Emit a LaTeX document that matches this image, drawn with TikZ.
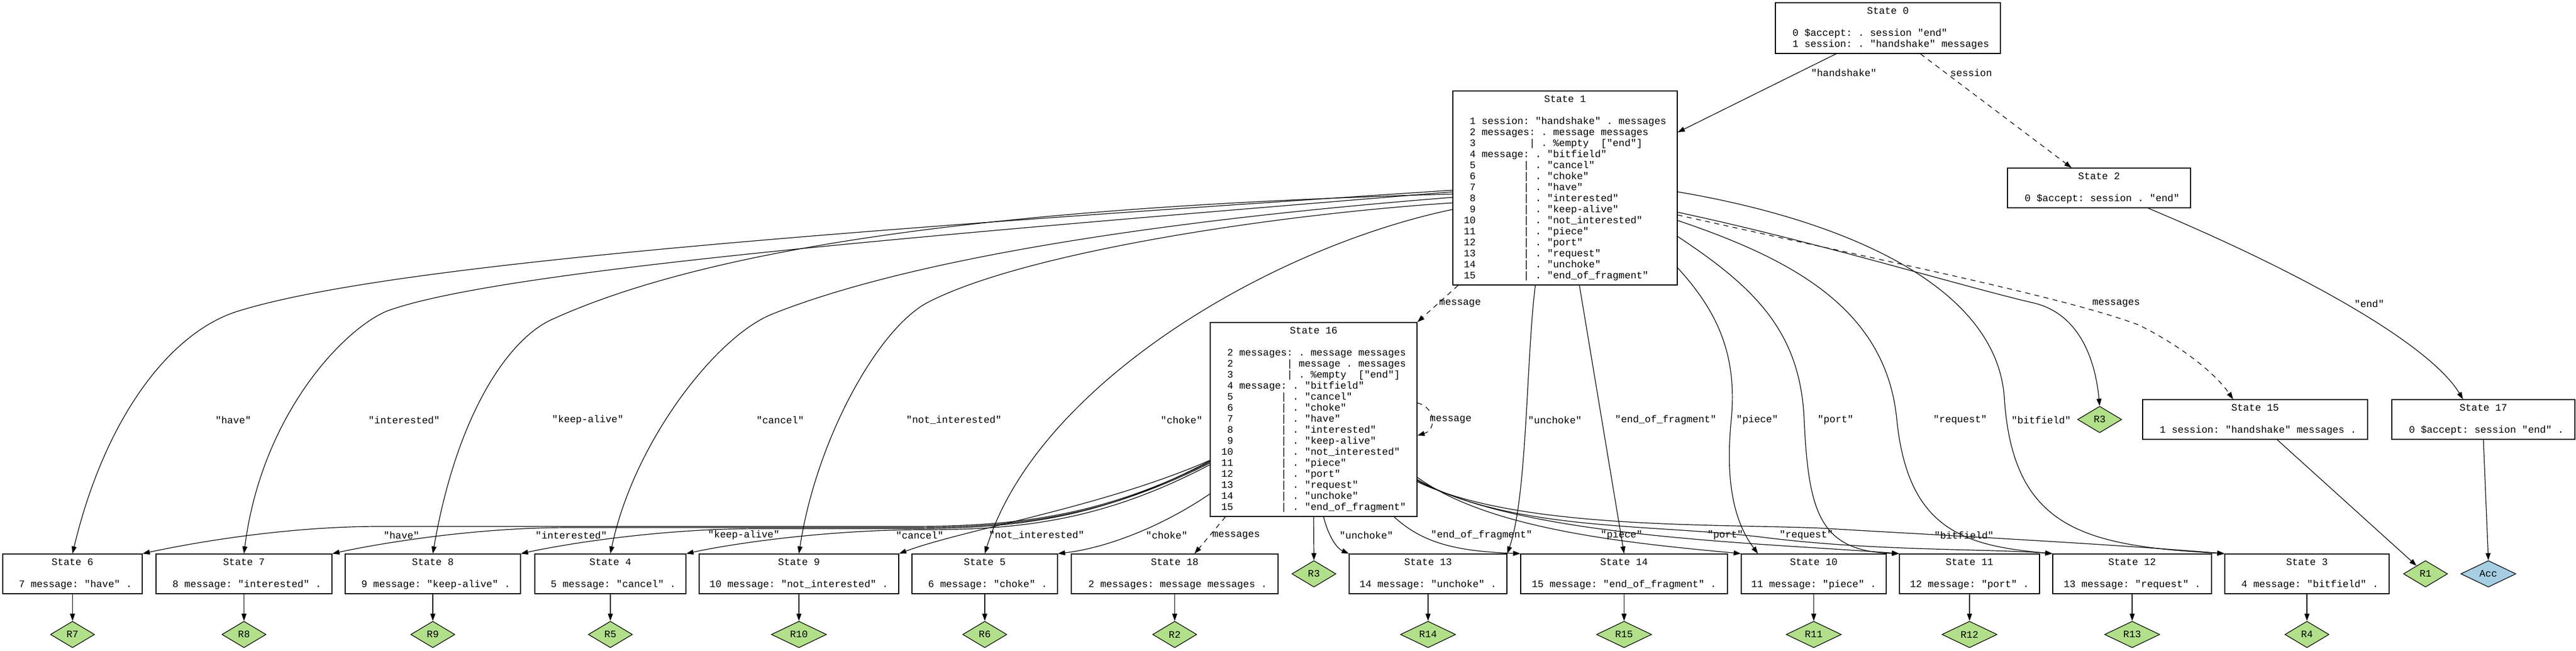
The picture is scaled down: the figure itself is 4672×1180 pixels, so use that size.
\documentclass[tikz,border=0pt]{standalone}
\usepackage{fontspec}
\setmonofont{Liberation Mono}
\usetikzlibrary{arrows.meta,shapes.geometric}
\definecolor{ReduceClr}{HTML}{B2DF8A}
\definecolor{AcceptClr}{HTML}{A6CEE3}
\newcommand{\stlabel}[2]{\begin{tabular}{@{}l@{}}\multicolumn{1}{@{}c@{}}{#1}\\ \\ #2\end{tabular}}

\begin{document}
\frenchspacing
\begin{tikzpicture}[x=0.5pt,y=-0.5pt,font=\ttfamily\fontsize{9}{10}\selectfont,
  stbox/.style={draw,line width=0.7pt,inner sep=3pt,minimum height=36pt},
  rbox/.style={diamond,draw,line width=0.6pt,fill=ReduceClr,inner sep=0pt,minimum width=40pt,minimum height=24pt},
  abox/.style={rbox,fill=AcceptClr,minimum width=50pt},
  tr/.style={line width=0.6pt,-{Triangle[length=6.5pt,width=4.5pt]}},
  gt/.style={tr,dash pattern=on 4.5pt off 4pt},
  elbl/.style={inner sep=0pt}]
\useasboundingbox (0,0) rectangle (4672,1180);

\node[stbox,minimum width=204pt,minimum height=46pt] (s0) at (3424,51) {\stlabel{State 0}{~0 \$accept: . session "end"\\~1 session: . "handshake" messages}};
\node[stbox,minimum width=203.5pt,minimum height=176pt] (s1) at (2838.5,341) {\stlabel{State 1}{%
~1 session: "handshake" . messages\\
~2 messages: . message messages\\
~3~~~~~~~~~| . \%empty~~["end"]\\
~4 message: . "bitfield"\\
~5~~~~~~~~| . "cancel"\\
~6~~~~~~~~| . "choke"\\
~7~~~~~~~~| . "have"\\
~8~~~~~~~~| . "interested"\\
~9~~~~~~~~| . "keep-alive"\\
10~~~~~~~~| . "not\_interested"\\
11~~~~~~~~| . "piece"\\
12~~~~~~~~| . "port"\\
13~~~~~~~~| . "request"\\
14~~~~~~~~| . "unchoke"\\
15~~~~~~~~| . "end\_of\_fragment"}};
\node[stbox,minimum width=166pt] (s2) at (3807,341) {\stlabel{State 2}{~0 \$accept: session . "end"}};
\node[stbox,minimum width=187.5pt,minimum height=176pt] (s16) at (2382.5,761) {\stlabel{State 16}{%
~2 messages: . message messages\\
~2~~~~~~~~~| message . messages\\
~3~~~~~~~~~| . \%empty~~["end"]\\
~4 message: . "bitfield"\\
~5~~~~~~~~| . "cancel"\\
~6~~~~~~~~| . "choke"\\
~7~~~~~~~~| . "have"\\
~8~~~~~~~~| . "interested"\\
~9~~~~~~~~| . "keep-alive"\\
10~~~~~~~~| . "not\_interested"\\
11~~~~~~~~| . "piece"\\
12~~~~~~~~| . "port"\\
13~~~~~~~~| . "request"\\
14~~~~~~~~| . "unchoke"\\
15~~~~~~~~| . "end\_of\_fragment"}};
\node[stbox,minimum width=204pt] (s15) at (4090,761) {\stlabel{State 15}{~1 session: "handshake" messages .}};
\node[stbox,minimum width=166pt] (s17) at (4504,761) {\stlabel{State 17}{~0 \$accept: session "end" .}};
\node[rbox] (r3a) at (3808,761) {R3};

\node[stbox,minimum width=126.5pt] (s6) at (131.5,1041) {\stlabel{State 6}{~7 message: "have" .}};
\node[stbox,minimum width=159.5pt] (s7) at (442.5,1041) {\stlabel{State 7}{~8 message: "interested" .}};
\node[stbox,minimum width=159pt] (s8) at (785,1041) {\stlabel{State 8}{~9 message: "keep-alive" .}};
\node[stbox,minimum width=137pt] (s4) at (1107,1041) {\stlabel{State 4}{~5 message: "cancel" .}};
\node[stbox,minimum width=181pt] (s9) at (1449,1041) {\stlabel{State 9}{10 message: "not\_interested" .}};
\node[stbox,minimum width=132pt] (s5) at (1786,1041) {\stlabel{State 5}{~6 message: "choke" .}};
\node[stbox,minimum width=187.5pt] (s18) at (2130.5,1041) {\stlabel{State 18}{~2 messages: message messages .}};
\node[rbox] (r3b) at (2383,1041) {R3};
\node[stbox,minimum width=143pt] (s13) at (2590,1041) {\stlabel{State 13}{14 message: "unchoke" .}};
\node[stbox,minimum width=187.5pt] (s14) at (2945.5,1041) {\stlabel{State 14}{15 message: "end\_of\_fragment" .}};
\node[stbox,minimum width=131.5pt] (s10) at (3289.5,1041) {\stlabel{State 10}{11 message: "piece" .}};
\node[stbox,minimum width=127pt] (s11) at (3572,1041) {\stlabel{State 11}{12 message: "port" .}};
\node[stbox,minimum width=144pt] (s12) at (3867,1041) {\stlabel{State 12}{13 message: "request" .}};
\node[stbox,minimum width=149pt] (s3) at (4184,1041) {\stlabel{State 3}{~4 message: "bitfield" .}};
\node[rbox] (r1) at (4399,1041) {R1};
\node[abox] (acc) at (4513,1041) {Acc};

\node[rbox] (r7) at (131.5,1151) {R7};
\node[rbox] (r8) at (442.5,1151) {R8};
\node[rbox] (r9) at (785,1151) {R9};
\node[rbox] (r5) at (1107,1151) {R5};
\node[rbox,minimum width=50pt] (r10) at (1449,1151) {R10};
\node[rbox] (r6) at (1786,1151) {R6};
\node[rbox] (r2) at (2130.5,1151) {R2};
\node[rbox,minimum width=50pt] (r14) at (2590,1151) {R14};
\node[rbox,minimum width=50pt] (r15) at (2945.5,1151) {R15};
\node[rbox,minimum width=50pt] (r11) at (3289.5,1151) {R11};
\node[rbox,minimum width=50pt] (r12) at (3572,1151) {R12};
\node[rbox,minimum width=50pt] (r13) at (3867,1151) {R13};
\node[rbox] (r4) at (4184,1151) {R4};

\draw[tr] ([xshift=-47pt]s0.south) -- ([yshift=50.5pt]s1.east) node[elbl] at (3344,132) {"handshake"};
\draw[gt] ([xshift=29.5pt]s0.south) -- ([xshift=-25pt]s2.north) node[elbl] at (3575,132) {session};
\draw[tr] ([xshift=44.5pt]s2.south) .. controls (4200,505) and (4410,630) .. ([xshift=-18.5pt]s17.north) node[elbl] at (4297,551) {"end"};
\draw[tr] ([xshift=20pt]s15.south) -- (r1);
\draw[tr] (s17.south) -- (acc.north);

\draw[tr] ([yshift=-2pt]s1.west) .. controls (1500,420) and (700,480) .. (430,565) .. controls (310,603) and (191,755) .. (s6.north) node[elbl] at (423,762) {"have"};
\draw[tr] ([yshift=-3.5pt]s1.west) .. controls (1700,425) and (900,490) .. (700,565) .. controls (620,600) and (474,755) .. (s7.north) node[elbl] at (733,762) {"interested"};
\draw[tr] ([yshift=-5.5pt]s1.west) .. controls (2000,370) and (1350,420) .. (1000,580) .. controls (920,617) and (828,755) .. (s8.north) node[elbl] at (1066,762) {"keep-alive"};
\draw[tr] ([yshift=-8.5pt]s1.west) .. controls (2100,400) and (1650,470) .. (1400,570) .. controls (1300,610) and (1150,800) .. (s4.north) node[elbl] at (1415,762) {"cancel"};
\draw[tr] ([yshift=-13.5pt]s1.west) .. controls (2300,390) and (1850,460) .. (1680,550) .. controls (1590,600) and (1480,800) .. (s9.north) node[elbl] at (1730,762) {"not\_interested"};
\draw[tr] ([yshift=-19.5pt]s1.west) .. controls (2300,450) and (1880,700) .. (s5.north) node[elbl] at (2143,762) {"choke"};
\draw[gt] ([xshift=-97pt]s1.south) -- (s16.north east) node[elbl] at (2648,551) {message};
\draw[tr] ([xshift=-27pt]s1.south) .. controls (2768,650) and (2770,900) .. (s13.north east) node[elbl] at (2820,762) {"unchoke"};
\draw[tr] ([xshift=13pt]s1.south) -- (s14.north) node[elbl] at (3021,762) {"end\_of\_fragment"};
\draw[tr] ([yshift=-72.5pt]s1.east) .. controls (3120,570) and (3150,650) .. (3140,760) .. controls (3130,860) and (3140,940) .. ([xshift=15.5pt]s10.north west) node[elbl] at (3187,762) {"piece"};
\draw[tr] ([yshift=-44pt]s1.east) .. controls (3180,520) and (3265,600) .. (3272,760) .. controls (3280,930) and (3300,1000) .. (s11.north west) node[elbl] at (3329,762) {"port"};
\draw[tr] ([yshift=-29.5pt]s1.east) .. controls (3250,470) and (3420,560) .. (3440,760) .. controls (3460,960) and (3560,990) .. (s12.north west) node[elbl] at (3555,762) {"request"};
\draw[tr] ([yshift=-3.5pt]s1.east) .. controls (3350,400) and (3620,520) .. (3635,720) .. controls (3650,960) and (3780,990) .. (s3.north west) node[elbl] at (3702,762) {"bitfield"};
\draw[tr] ([yshift=-22pt]s1.east) .. controls (3300,440) and (3560,520) .. (3690,550) .. controls (3770,570) and (3800,650) .. (r3a.north);
\draw[gt] ([yshift=-24.5pt]s1.east) .. controls (3400,470) and (3750,540) .. (3880,590) .. controls (3960,630) and (4020,680) .. ([xshift=-20pt]s15.north) node[elbl] at (3838,551) {messages};

\draw[tr] ([yshift=-38.5pt]s16.west) .. controls (2000,935) and (1850,955) .. (1650,955) -- (688,955) .. controls (518,955) and (348,985) .. (s6.north east) node[elbl] at (728,971) {"have"};
\draw[tr] ([yshift=-39.5pt]s16.west) .. controls (2000,937) and (1850,957) .. (1650,957) -- (1032,957) .. controls (862,957) and (692,985) .. (s7.north east) node[elbl] at (1036,971) {"interested"};
\draw[tr] ([yshift=-37.5pt]s16.west) .. controls (2000,939) and (1850,959) .. (1650,959) -- (1374,959) .. controls (1204,959) and (1034,985) .. (s8.north east) node[elbl] at (1349,971) {"keep-alive"};
\draw[tr] ([yshift=-41pt]s16.west) .. controls (2000,945) and (1850,961) .. (1674,961) .. controls (1504,961) and (1334,985) .. (s4.north east) node[elbl] at (1668,971) {"cancel"};
\draw[tr] ([yshift=-37pt]s16.west) .. controls (2000,920) and (1750,960) .. (s9.north east) node[elbl] at (1880,971) {"not\_interested"};
\draw[tr] ([yshift=-67.5pt]s16.west) .. controls (2100,960) and (2000,995) .. (s5.north east) node[elbl] at (2116,971) {"choke"};
\draw[gt] ([xshift=-80pt]s16.south) -- ([xshift=18pt]s18.north) node[elbl] at (2242,971) {messages};
\draw[tr] (s16.south) -- (r3b.north);
\draw[tr] ([xshift=9pt]s16.south) .. controls (2410,975) and (2425,995) .. (s13.north west) node[elbl] at (2478,971) {"unchoke"};
\draw[tr] ([xshift=73pt]s16.south) .. controls (2580,985) and (2640,1000) .. (s14.north west) node[elbl] at (2687,971) {"end\_of\_fragment"};
\draw[tr] ([yshift=-52.5pt]s16.east) .. controls (2700,960) and (2950,985) .. (s10.north west) node[elbl] at (2941,971) {"piece"};
\draw[tr] ([yshift=-54.5pt]s16.east) .. controls (2750,975) and (3200,985) .. (s11.north west) node[elbl] at (3129,971) {"port"};
\draw[tr] ([yshift=-55.5pt]s16.east) .. controls (2750,965) and (3000,950) .. (3200,975) .. controls (3400,1000) and (3600,995) .. (s12.north west) node[elbl] at (3276,971) {"request"};
\draw[tr] ([yshift=-56.5pt]s16.east) .. controls (2750,960) and (3100,950) .. (3300,958) .. controls (3500,970) and (3800,985) .. (s3.north west) node[elbl] at (3562,971) {"bitfield"};
\draw[gt] ([yshift=15pt]s16.east) .. controls (2605,740) and (2605,780) .. ([yshift=-14.5pt]s16.east) node[elbl] at (2631,762) {message};

\draw[tr] (s6.south) -- (r7.north);
\draw[tr] (s7.south) -- (r8.north);
\draw[tr] (s8.south) -- (r9.north);
\draw[tr] (s4.south) -- (r5.north);
\draw[tr] (s9.south) -- (r10.north);
\draw[tr] (s5.south) -- (r6.north);
\draw[tr] (s18.south) -- (r2.north);
\draw[tr] (s13.south) -- (r14.north);
\draw[tr] (s14.south) -- (r15.north);
\draw[tr] (s10.south) -- (r11.north);
\draw[tr] (s11.south) -- (r12.north);
\draw[tr] (s12.south) -- (r13.north);
\draw[tr] (s3.south) -- (r4.north);
\end{tikzpicture}
\end{document}
